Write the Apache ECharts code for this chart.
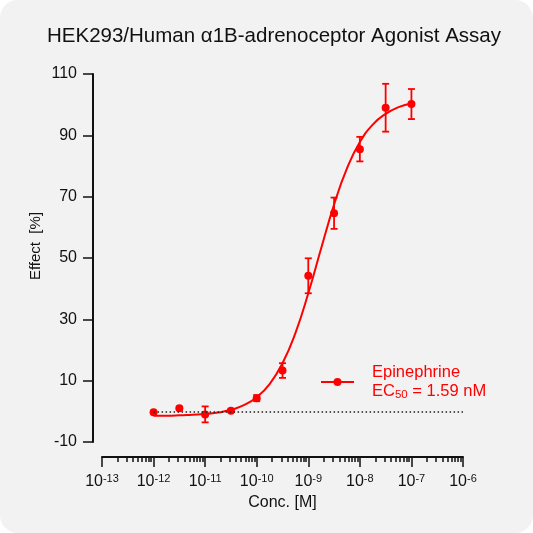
<!DOCTYPE html>
<html>
<head>
<meta charset="utf-8">
<script src="https://cdn.jsdelivr.net/npm/echarts@6/dist/echarts.min.js"></script>
<style>
  html, body { margin: 0; padding: 0; background: #ffffff; }
  #chart { width: 533px; height: 533px; background: #f2f2f2; border-radius: 18px; overflow: hidden; }
</style>
</head>
<body>
<div id="chart"></div>
<script>
// measured points, x as log10 of concentration [M]
var doseExp = [-12, -11.5, -11, -10.5, -10, -9.5, -9, -8.5, -8, -7.5, -7];
var effectMean = [-0.3, 1.0, -1.0, 0.2, 4.3, 13.3, 44.2, 64.6, 85.5, 99.0, 100.2];
var effectErr = [0.4, 0.5, 2.6, 0.4, 1.0, 2.4, 5.7, 5.1, 4.0, 7.8, 4.9];

// fitted curve
var curveExp = [-12, -11.75, -11.5, -11.25, -11, -10.75, -10.5, -10.25, -10, -9.75, -9.5,
	-9.25, -9, -8.75, -8.5, -8.25, -8, -7.75, -7.5, -7.25, -7];
var curveY = [-1.4, -1.4, -1.3, -1.1, -0.9, -0.4, 0.5, 2.0, 4.6, 8.9, 15.7,
	25.5, 38.5, 53.2, 67.4, 79.2, 87.8, 93.5, 97.0, 99.2, 100.4];

var yTicks = [-10, 10, 30, 50, 70, 90, 110];
var xMajor = [-13, -12, -11, -10, -9, -8, -7, -6];
var xMinorSteps = [2, 3, 4, 5, 6, 7, 8, 9];

var red = '#ff0000';
var font = "'Liberation Sans', Arial, sans-serif";

var xMinor = [];
xMajor.slice(0, -1).forEach(function (d) {
	xMinorSteps.forEach(function (k) { xMinor.push(d + Math.log10(k)); });
});

var chart = echarts.init(document.getElementById('chart'), null, { renderer: 'canvas' });

var axisBase = {
	type: 'value',
	min: -13,
	max: -6,
	position: 'bottom',
	offset: 15,
	splitLine: { show: false }
};

var option = {
	backgroundColor: 'transparent',
	animation: false,
	textStyle: { fontFamily: font },
	title: {
		text: 'HEK293/Human α1B-adrenoceptor Agonist Assay',
		left: 269,
		textAlign: 'center',
		top: 21,
		textStyle: { fontSize: 20.5, fontWeight: 'normal', color: '#111', fontFamily: font }
	},
	grid: { left: 102, right: 70, top: 74, bottom: 91 },
	legend: {
		data: ['Epinephrine'],
		left: 315,
		top: 358,
		itemWidth: 33,
		itemHeight: 10,
		formatter: function () { return 'Epinephrine\nEC{sub|50} = 1.59 nM'; },
		textStyle: {
			color: red,
			fontSize: 16.5,
			lineHeight: 19,
			fontFamily: font,
			padding: [0, 0, 0, 13],
			rich: {
				sub: { fontSize: 11.5, color: red, padding: [6, 0, 0, 0], fontFamily: font }
			}
		}
	},
	xAxis: [
		Object.assign({}, axisBase, {
			name: 'Conc. [M]',
			nameLocation: 'middle',
			nameGap: 35,
			nameTextStyle: { fontSize: 16, color: '#111', fontFamily: font },
			axisLine: { onZero: false, lineStyle: { color: '#111', width: 2 } },
			axisTick: { customValues: xMajor, length: 10, lineStyle: { color: '#111', width: 1.5 } },
			axisLabel: {
				customValues: xMajor,
				margin: 16,
				color: '#111',
				fontSize: 16,
				formatter: function (v) { return '10{sup|' + v + '}'; },
				rich: { sup: { fontSize: 11, color: '#111', padding: [0, 0, 7, 0] } }
			}
		}),
		Object.assign({}, axisBase, {
			axisLine: { show: false, onZero: false },
			axisTick: { customValues: xMinor, length: 5, lineStyle: { color: '#111', width: 1.5 } },
			axisLabel: { show: false }
		})
	],
	yAxis: {
		type: 'value',
		min: -10,
		max: 110,
		position: 'left',
		offset: 9,
		name: 'Effect  [%]',
		nameLocation: 'middle',
		nameGap: 50,
		nameMoveOverlap: false,
		nameTextStyle: { fontSize: 15, color: '#111', fontFamily: font, padding: [0, 0, 0, 24] },
		splitLine: { show: false },
		axisLine: { show: true, onZero: false, lineStyle: { color: '#111', width: 2 } },
		axisTick: { show: true, customValues: yTicks, length: 10, lineStyle: { color: '#111', width: 1.5 } },
		axisLabel: { customValues: yTicks, margin: 16, color: '#111', fontSize: 16 }
	},
	series: [
		{
			name: 'Epinephrine',
			type: 'line',
			data: curveExp.map(function (e, i) { return [e, curveY[i]]; }),
			smooth: true,
			showSymbol: false,
			symbol: 'circle',
			symbolSize: 8,
			itemStyle: { color: red },
			lineStyle: { color: red, width: 2 },
			z: 3,
			markLine: {
				silent: true,
				symbol: 'none',
				label: { show: false },
				lineStyle: { color: '#222', type: [1.5, 2.5], width: 1.5 },
				data: [[{ coord: [-12, 0] }, { coord: [-6, 0] }]]
			}
		},
		{
			name: 'Epinephrine',
			type: 'scatter',
			data: doseExp.map(function (e, i) { return [e, effectMean[i]]; }),
			symbol: 'circle',
			symbolSize: 8,
			itemStyle: { color: red, opacity: 1 },
			z: 4
		},
		{
			type: 'custom',
			data: doseExp.map(function (e, i) { return [e, effectMean[i] - effectErr[i], effectMean[i] + effectErr[i]]; }),
			renderItem: function (params, api) {
				var lo = api.coord([api.value(0), api.value(1)]);
				var hi = api.coord([api.value(0), api.value(2)]);
				var w = 3.5;
				var style = { stroke: red, lineWidth: 1.8 };
				return {
					type: 'group',
					children: [
						{ type: 'line', shape: { x1: lo[0], y1: lo[1], x2: hi[0], y2: hi[1] }, style: style },
						{ type: 'line', shape: { x1: lo[0] - w, y1: lo[1], x2: lo[0] + w, y2: lo[1] }, style: style },
						{ type: 'line', shape: { x1: hi[0] - w, y1: hi[1], x2: hi[0] + w, y2: hi[1] }, style: style }
					]
				};
			},
			z: 3
		}
	]
};

chart.setOption(option);
</script>
</body>
</html>
